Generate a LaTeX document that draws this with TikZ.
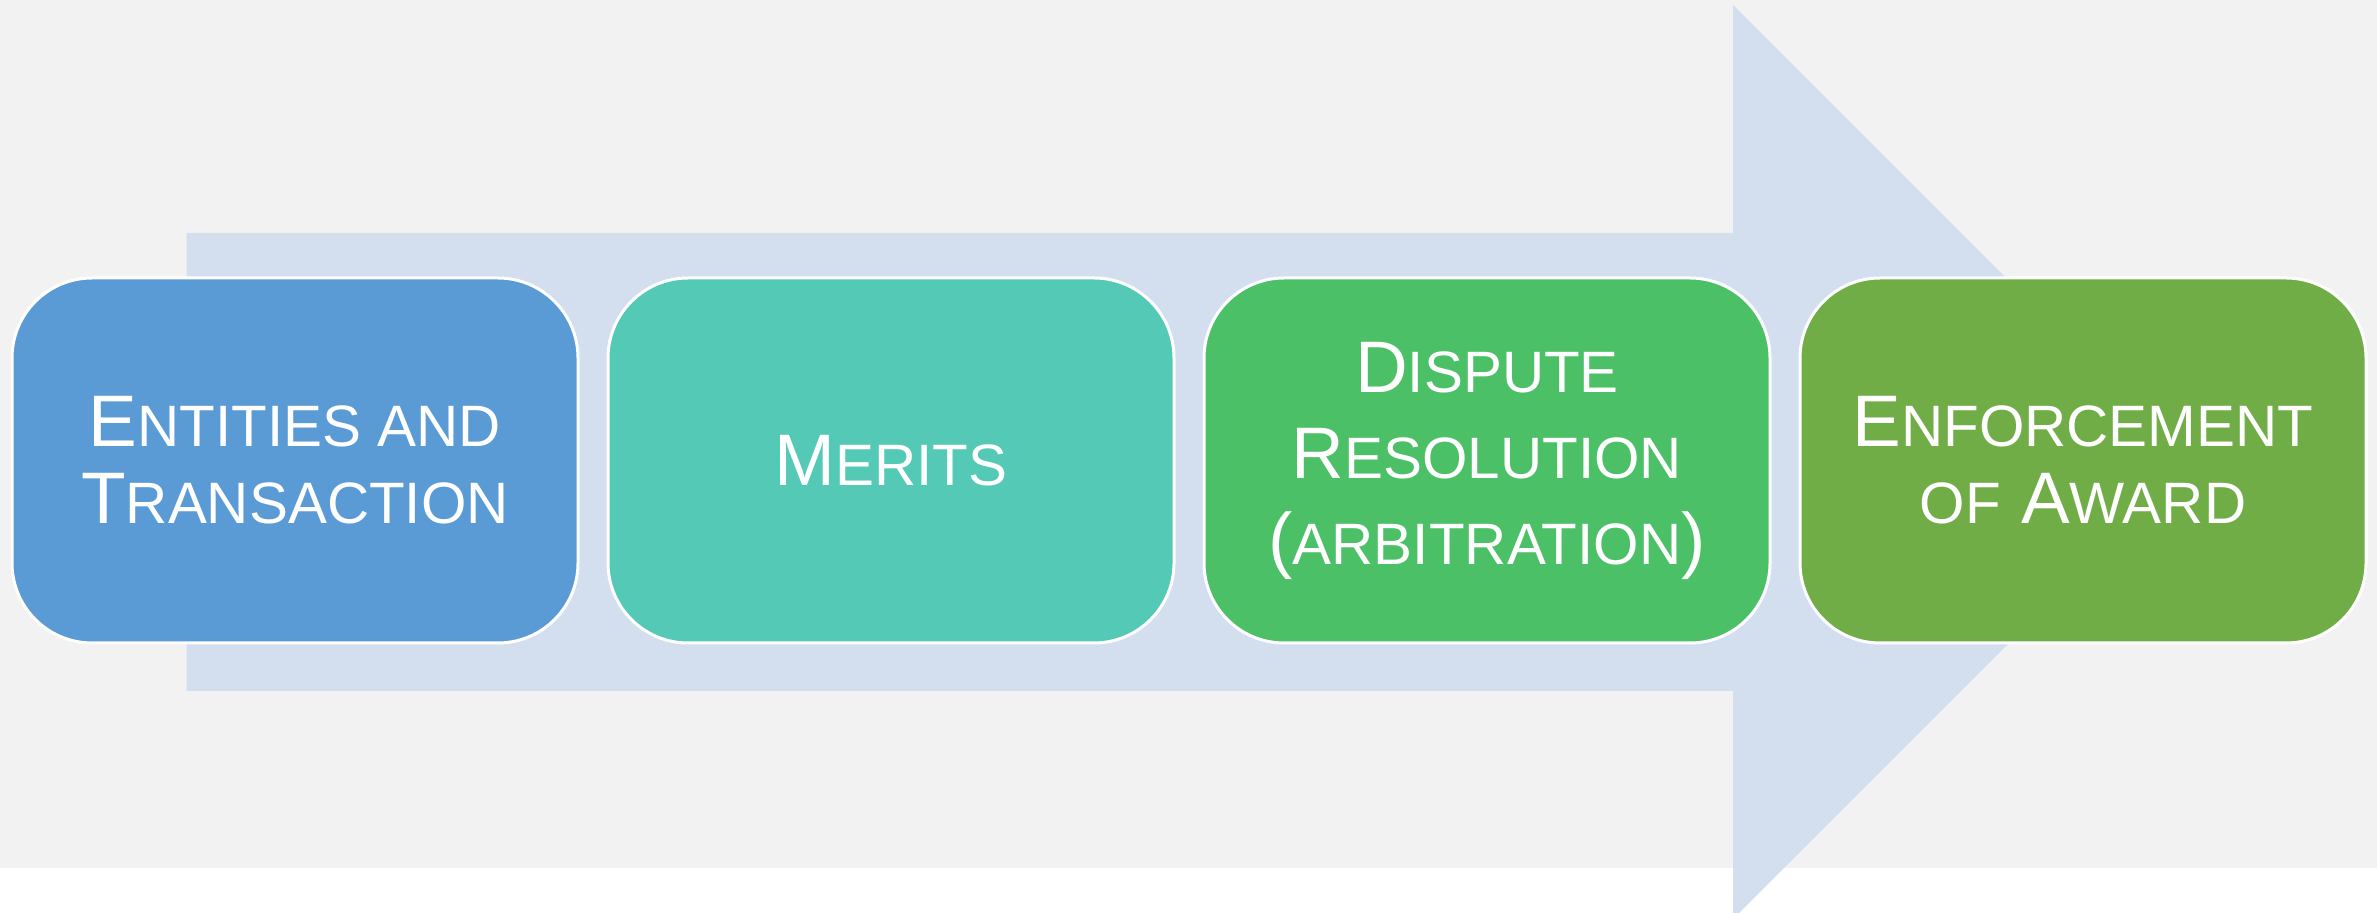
\documentclass[tikz,border=0pt]{standalone}
\usepackage{fontspec}
\setmainfont{Liberation Sans}
\definecolor{bgc}{HTML}{F2F2F2}
\definecolor{arrowc}{HTML}{D3DEEF}
\definecolor{boxa}{HTML}{5B9BD5}
\definecolor{boxb}{HTML}{54C9B6}
\definecolor{boxc}{HTML}{4BC066}
\definecolor{boxd}{HTML}{70AD47}
\newcommand\Lc[1]{{\fontsize{36.5}{40}\selectfont #1}}
\newcommand\Sc[1]{{\fontsize{29.2}{40}\selectfont #1}}
\tikzset{
  stage/.style={draw=white, line width=1.5pt, rounded corners=40pt,
    minimum width=283pt, minimum height=182.5pt, text=white,
    align=center, inner sep=0pt},
}
\begin{document}
\begin{tikzpicture}[x=0.5pt,y=-0.5pt]
\useasboundingbox (0,0) rectangle (2377,913);
\clip (0,0) rectangle (2377,913);
\fill[white] (0,0) rectangle (2377,913);
\fill[bgc] (0,0) rectangle (2377,868);
\fill[arrowc] (186.7,233) -- (1733,233) -- (1733,5) -- (2190,462) -- (1733,919) -- (1733,691) -- (186.7,691) -- cycle;
\node[stage, fill=boxa, font=\fontsize{36.5}{38.5}\selectfont] (s1) at (295,460.5)
  {\Lc{E}\Sc{NTITIES AND}\\\Lc{T}\Sc{RANSACTION}};
\node[stage, fill=boxb, font=\fontsize{36.5}{38.5}\selectfont] (s2) at (891,460.5)
  {\Lc{M}\Sc{ERITS}};
\node[stage, fill=boxc, font=\fontsize{36.5}{43}\selectfont] (s3) at (1487,460.5)
  {\Lc{D}\Sc{ISPUTE}\\\Lc{R}\Sc{ESOLUTION}\\\Lc{(}\Sc{ARBITRATION}\Lc{)}};
\node[stage, fill=boxd, font=\fontsize{36.5}{38.5}\selectfont] (s4) at (2083,460.5)
  {\Lc{E}\Sc{NFORCEMENT}\\\Sc{OF} \Lc{A}\Sc{WARD}};
\end{tikzpicture}
\end{document}
